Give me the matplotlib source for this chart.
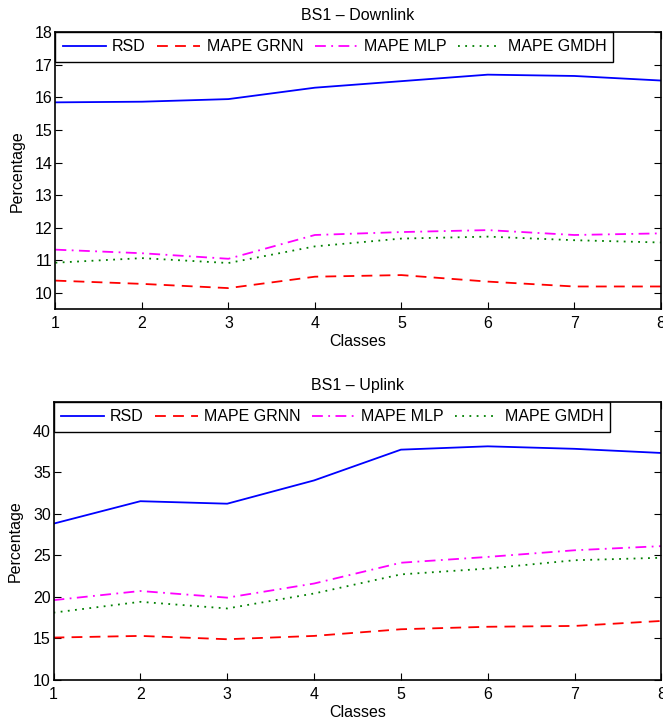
import matplotlib
matplotlib.use("Agg")
import matplotlib.pyplot as plt

plt.rcParams['font.family'] = ['Liberation Sans', 'DejaVu Sans']
plt.rcParams['font.size'] = 11.5

classes = [1, 2, 3, 4, 5, 6, 7, 8]
series_names = ['RSD', 'MAPE GRNN', 'MAPE MLP', 'MAPE GMDH']

# BS1 downlink
dl_rsd = [15.85, 15.87, 15.95, 16.30, 16.50, 16.70, 16.66, 16.52]
dl_grnn = [10.38, 10.28, 10.15, 10.50, 10.55, 10.35, 10.20, 10.20]
dl_mlp = [11.33, 11.22, 11.05, 11.78, 11.87, 11.93, 11.78, 11.83]
dl_gmdh = [10.93, 11.07, 10.92, 11.43, 11.67, 11.73, 11.62, 11.55]

# BS1 uplink
ul_rsd = [28.8, 31.5, 31.2, 34.0, 37.7, 38.1, 37.8, 37.3]
ul_grnn = [15.1, 15.3, 14.9, 15.3, 16.1, 16.4, 16.5, 17.1]
ul_mlp = [19.6, 20.7, 19.9, 21.6, 24.1, 24.8, 25.6, 26.1]
ul_gmdh = [18.1, 19.4, 18.6, 20.4, 22.7, 23.4, 24.4, 24.7]

styles = [
    dict(color='#0000ff', linestyle='-'),
    dict(color='#ff0000', linestyle=(0, (6, 4))),
    dict(color='#ff00ff', linestyle=(0, (6, 3, 1, 3))),
    dict(color='#008000', linestyle=(0, (1, 3))),
]


def draw_panel(ax, title, data, ylim, yticks, legend_width):
    for vals, name, st in zip(data, series_names, styles):
        ax.plot(classes, vals, label=name, linewidth=1.3, **st)
    ax.set_xlim(1, 8)
    ax.set_ylim(*ylim)
    ax.set_xticks(classes)
    ax.set_yticks(yticks)
    ax.set_title(title, fontsize=11.5, pad=9)
    ax.set_xlabel('Classes', labelpad=2)
    ax.set_ylabel('Percentage', labelpad=7)
    ax.tick_params(direction='in', length=5, width=0.8, top=True, right=True)
    ax.tick_params(axis='x', pad=5)
    ax.tick_params(axis='y', pad=2)
    for sp in ax.spines.values():
        sp.set_linewidth(1.2)
    leg = ax.legend(loc='upper left', bbox_to_anchor=(0, 1, legend_width, 0),
                    mode='expand', ncol=4, borderaxespad=0, fancybox=False,
                    framealpha=1, edgecolor='black', handlelength=2.7,
                    handletextpad=0.4, columnspacing=0.8, borderpad=0.45)
    leg.get_frame().set_linewidth(1.0)


fig = plt.figure(figsize=(6.63, 7.24), dpi=100)
ax1 = fig.add_axes([0.0837, 0.5728, 0.9128, 0.3826])
ax2 = fig.add_axes([0.0807, 0.0608, 0.917, 0.3836])

draw_panel(ax1, 'BS1 \u2013 Downlink', [dl_rsd, dl_grnn, dl_mlp, dl_gmdh],
           (9.5, 18), range(10, 19), 0.922)
draw_panel(ax2, 'BS1 \u2013 Uplink', [ul_rsd, ul_grnn, ul_mlp, ul_gmdh],
           (10, 43.4), range(10, 41, 5), 0.916)

fig.savefig('out.png', dpi=100)
